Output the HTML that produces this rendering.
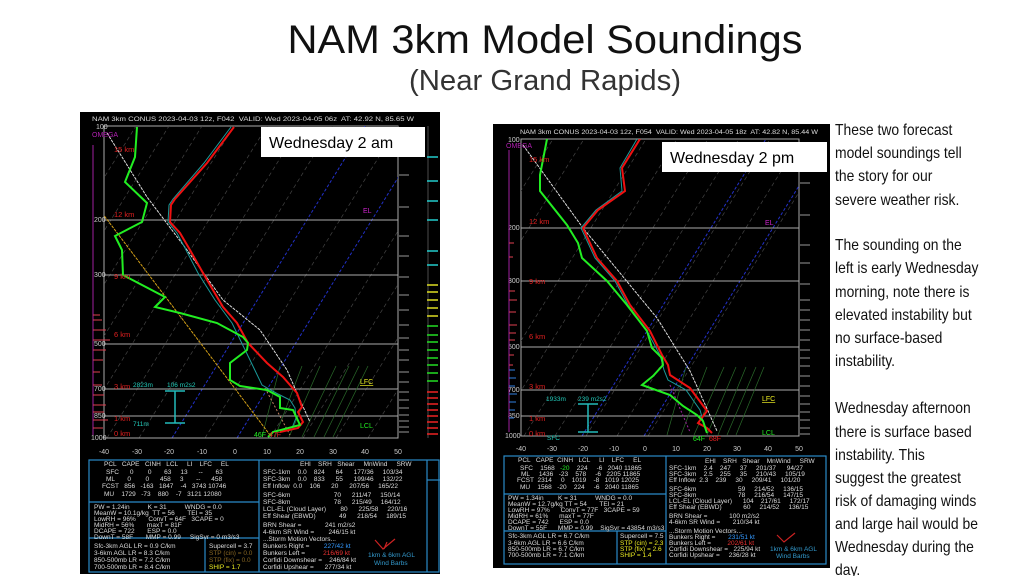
<!DOCTYPE html>
<html><head><meta charset="utf-8"><style>
html,body{margin:0;padding:0;background:#fff;width:1024px;height:576px;overflow:hidden}
svg{display:block}
.t{font-family:"Liberation Sans",sans-serif}
.s{font-family:"Liberation Sans",sans-serif;font-size:6.5px;fill:#ddd;white-space:pre}
.s text{white-space:pre}
</style></head><body>
<svg width="1024" height="576" viewBox="0 0 1024 576" xmlns="http://www.w3.org/2000/svg">
<defs>
<clipPath id="cl"><rect x="104" y="126" width="294" height="312"/></clipPath>
<clipPath id="cr"><rect x="521" y="139" width="278" height="297"/></clipPath>
<line id="isoL" x1="0" y1="438" x2="193" y2="126" stroke="#444" stroke-width="0.7" stroke-dasharray="4,3"/>
<line id="isoR" x1="0" y1="436" x2="184" y2="139" stroke="#444" stroke-width="0.7" stroke-dasharray="4,3"/>
</defs>
<rect width="1024" height="576" fill="#fff"/>
<text class="t" x="545" y="53" text-anchor="middle" font-size="40" textLength="515" lengthAdjust="spacingAndGlyphs" fill="#111">NAM 3km Model Soundings</text>
<text class="t" x="545" y="90" text-anchor="middle" font-size="29" textLength="272" lengthAdjust="spacingAndGlyphs" fill="#333">(Near Grand Rapids)</text>

<!-- LEFT PANEL -->
<rect x="80" y="112" width="360" height="462" fill="#000"/>
<text class="s" x="92" y="121" font-size="7" fill="#ccc" textLength="322" lengthAdjust="spacingAndGlyphs">NAM 3km CONUS 2023-04-03 12z, F042  VALID: Wed 2023-04-05 06z  AT: 42.92 N, 85.65 W</text>
<rect x="104" y="126" width="294" height="312" fill="none" stroke="#aaa" stroke-width="1"/>
<g clip-path="url(#cl)">
<use href="#isoL" x="-155"/><use href="#isoL" x="-122"/><use href="#isoL" x="-89"/><use href="#isoL" x="-57"/><use href="#isoL" x="-24"/><use href="#isoL" x="9"/><use href="#isoL" x="41"/><use href="#isoL" x="74"/><use href="#isoL" x="107"/><use href="#isoL" x="139"/><use href="#isoL" x="205"/><use href="#isoL" x="270"/><use href="#isoL" x="303"/><use href="#isoL" x="336"/><use href="#isoL" x="368"/>
<line x1="172" y1="438" x2="365" y2="126" stroke="#2230c8" stroke-width="1" stroke-dasharray="3,2"/>
<line x1="237" y1="438" x2="430" y2="126" stroke="#2230c8" stroke-width="1" stroke-dasharray="3,2"/>
<g stroke="#aaa" stroke-width="1"><line x1="104" y1="220" x2="398" y2="220"/><line x1="104" y1="275" x2="398" y2="275"/><line x1="104" y1="344" x2="398" y2="344"/><line x1="104" y1="389" x2="398" y2="389"/><line x1="104" y1="416" x2="398" y2="416"/><line x1="104" y1="438" x2="398" y2="438"/></g>
<g stroke="#2a6a2a" stroke-width="0.7"><line x1="262" y1="437" x2="280" y2="366"/><line x1="275" y1="437" x2="302" y2="366"/><line x1="289" y1="437" x2="320" y2="366"/><line x1="302" y1="437" x2="336" y2="366"/><line x1="314" y1="437" x2="349" y2="366"/><line x1="324" y1="437" x2="359" y2="366"/><line x1="333" y1="437" x2="368" y2="366"/></g>
<line x1="90" y1="197" x2="270" y2="435" stroke="#d4a017" stroke-width="1" stroke-dasharray="3,1"/>
<line x1="265" y1="388" x2="290" y2="435" stroke="#c08060" stroke-width="1" stroke-dasharray="2,2"/>
<polyline fill="none" stroke="#ddd" stroke-width="1" stroke-dasharray="3,1" points="107,133 147,197 187,250 223,300 260,330 287,370 300,400 310,422"/>
<polyline fill="none" stroke="#1a9a9a" stroke-width="1" points="231,127 204,163 173,199 169,205 168,222 177,233 186,250 198,273 215,300 232,323 250,360 262,385 278,394 290,400 295,408 296,418 292,428"/>
<polyline fill="none" stroke="#ee1111" stroke-width="2" points="234,127 207,163 175,199 171,205 170,222 180,233 190,250 203,273 223,307 237,323 248,343 267,363 283,377 297,393 302,407 298,412 303,422 298,428 280,432"/>
<polyline fill="none" stroke="#22ee22" stroke-width="2" points="137,127 135,157 125,182 147,203 142,222 115,236 122,250 123,275 165,297 155,307 180,313 217,323 243,337 248,343 247,350 230,363 230,380 240,386 267,390 280,397 280,408 293,410 300,425 273,432 268,437"/>
</g>
<g font-family="Liberation Sans,sans-serif" font-size="7" fill="#ccc">
<text x="96" y="129">100</text><text x="94" y="222">200</text><text x="94" y="277">300</text><text x="94" y="346">500</text><text x="94" y="391">700</text><text x="94" y="418">850</text><text x="91" y="440">1000</text>
<text x="92" y="137" fill="#b020b0">OMEGA</text>
</g>
<g font-family="Liberation Sans,sans-serif" font-size="7.5" fill="#e02020">
<text x="114" y="152">15 km</text><text x="114" y="217">12 km</text><text x="114" y="279">9 km</text><text x="114" y="337">6 km</text><text x="114" y="389">3 km</text><text x="114" y="421">1 km</text><text x="114" y="436">0 km</text>
</g>
<line x1="93" y1="145" x2="93" y2="435" stroke="#a020a0" stroke-width="1"/>
<g stroke="#e04050" stroke-width="1"><line x1="93" y1="315" x2="100" y2="315"/><line x1="93" y1="320" x2="102" y2="320"/><line x1="93" y1="330" x2="106" y2="330"/><line x1="93" y1="340" x2="110" y2="340"/><line x1="93" y1="350" x2="106" y2="350"/><line x1="93" y1="360" x2="103" y2="360"/><line x1="93" y1="372" x2="100" y2="372"/><line x1="93" y1="385" x2="102" y2="385"/><line x1="93" y1="395" x2="104" y2="395"/><line x1="93" y1="405" x2="106" y2="405"/><line x1="93" y1="412" x2="104" y2="412"/><line x1="93" y1="420" x2="108" y2="420"/><line x1="93" y1="428" x2="103" y2="428"/></g>
<g font-family="Liberation Sans,sans-serif" font-size="6.5" fill="#2cb">
<text x="133" y="387">2823m</text><text x="167" y="387">106 m2s2</text><text x="133" y="426">711m</text></g>
<path d="M165 391H185M175 391V423M165 423H185" stroke="#2bb" stroke-width="1.5" fill="none"/>
<text x="254" y="437" font-family="Liberation Sans,sans-serif" font-size="7" fill="#2e2">46F</text>
<text x="269" y="437" font-family="Liberation Sans,sans-serif" font-size="7" fill="#e22">47F</text>
<text x="360" y="384" font-family="Liberation Sans,sans-serif" font-size="7" fill="#ee2" text-decoration="underline">LFC</text>
<text x="360" y="428" font-family="Liberation Sans,sans-serif" font-size="7" fill="#2e2">LCL</text>
<text x="363" y="213" font-family="Liberation Sans,sans-serif" font-size="7" fill="#c2c">EL</text>
<g stroke="#ccc" stroke-width="0.8" fill="none">
<path d="M399 175h10M399 207h10M399 236h10M399 256h10M399 277h10M399 295h10M399 310h10M399 325h10M399 338h10M399 350h10M399 360h10M399 372h10M399 382h10M399 392h10M399 400h10M399 408h10M399 415h10M399 421h10M399 427h10M399 432h10"/></g>
<g stroke-width="1.5"><line x1="428" y1="126" x2="428" y2="438" stroke="#333"/>
<g stroke="#2cc"><path d="M427 157h11M427 181h11M427 201h11M427 220h11M427 251h11M427 265h11"/></g>
<g stroke="#dd2"><path d="M427 285h11M427 292h11M427 300h11M427 308h11M427 316h11"/></g>
<g stroke="#2d2"><path d="M427 326h11M427 335h11M427 342h11M427 350h11M427 358h11M427 365h11M427 373h11M427 381h11"/></g>
<g stroke="#e22"><path d="M427 392h11M427 398h11M427 404h11M427 410h11M427 416h11M427 422h11M427 428h11M427 434h11"/></g></g>
<rect x="261" y="127" width="164" height="30" fill="#fff"/>
<text class="t" x="269" y="148" font-size="16" fill="#000">Wednesday 2 am</text>
<g font-family="Liberation Sans,sans-serif" font-size="7" fill="#ccc" text-anchor="middle">
<text x="104" y="454">-40</text><text x="137" y="454">-30</text><text x="169" y="454">-20</text><text x="202" y="454">-10</text><text x="235" y="454">0</text><text x="267" y="454">10</text><text x="300" y="454">20</text><text x="333" y="454">30</text><text x="365" y="454">40</text><text x="398" y="454">50</text></g>
<g fill="none" stroke="#2a8ac8" stroke-width="1.2">
<rect x="89" y="460" width="350" height="112"/><line x1="259" y1="460" x2="259" y2="572"/><line x1="89" y1="502" x2="259" y2="502"/><line x1="89" y1="538" x2="259" y2="538"/><line x1="205" y1="538" x2="205" y2="572"/><line x1="427" y1="460" x2="427" y2="572"/><line x1="427" y1="480" x2="440" y2="480"/></g>
<g class="s" fill="#ddd" xml:space="preserve">
<text x="104" y="466">PCL   CAPE   CINH   LCL     LI    LFC     EL</text>
<text x="106" y="474">SFC      0        0       63     13      --       63</text>
<text x="106" y="481">ML       0        0      458     3       --      458</text>
<text x="102" y="488">FCST   856   -163   1847    -4   3743 10746</text>
<text x="104" y="496">MU    1729   -73    880    -7   3121 12080</text>
<text x="94" y="509">PW = 1.24in          K = 31          WNDG = 0.0</text>
<text x="94" y="515">MeanW = 10.1g/kg  TT = 56       TEI = 35</text>
<text x="94" y="521">LowRH = 96%       ConvT = 64F   3CAPE = 0</text>
<text x="94" y="527">MidRH = 56%       maxT = 81F</text>
<text x="94" y="533">DCAPE = 722       ESP = 0.0</text>
<text x="94" y="539">DownT = 58F       MMP = 0.99     SigSvr = 0 m3/s3</text>
<text x="94" y="548">Sfc-3km AGL LR = 0.9 C/km</text>
<text x="94" y="555">3-6km AGL LR = 8.3 C/km</text>
<text x="94" y="562">850-500mb LR = 7.2 C/km</text>
<text x="94" y="569">700-500mb LR = 8.4 C/km</text>
<text x="209" y="548">Supercell = 3.7</text>
<text x="209" y="555" fill="#886622">STP (cin) = 0.0</text>
<text x="209" y="562" fill="#886622">STP (fix) = 0.0</text>
<text x="209" y="569" fill="#ee2">SHIP = 1.7</text>
<text x="300" y="466">EHI    SRH   Shear     MnWind     SRW</text>
<text x="263" y="474">SFC-1km    0.0    824      64      177/36     103/34</text>
<text x="263" y="481">SFC-3km    0.0    833      55      199/46     132/22</text>
<text x="263" y="488">Eff Inflow  0.0    106      20      207/56     165/22</text>
<text x="263" y="497">SFC-6km                        70      211/47     150/14</text>
<text x="263" y="504">SFC-8km                        78      215/49     164/12</text>
<text x="263" y="511">LCL-EL (Cloud Layer)        80      225/58     220/16</text>
<text x="263" y="518">Eff Shear (EBWD)             49      218/54     189/15</text>
<text x="263" y="527">BRN Shear =             241 m2/s2</text>
<text x="263" y="534">4-6km SR Wind =        246/15 kt</text>
<text x="263" y="541">...Storm Motion Vectors...</text>
<text x="263" y="548">Bunkers Right =        <tspan fill="#39f">227/42 kt</tspan></text>
<text x="263" y="555">Bunkers Left =          <tspan fill="#e33">216/69 kt</tspan></text>
<text x="263" y="562">Corfidi Downshear =    246/84 kt</text>
<text x="263" y="569">Corfidi Upshear =      277/34 kt</text>
<text x="368" y="557" fill="#39c">1km &amp; 6km AGL</text>
<text x="374" y="565" fill="#39c">Wind Barbs</text>
</g>
<path d="M375 540l8 9l12-10M384 549l3-7" stroke="#c22" stroke-width="1.2" fill="none"/>

<!-- RIGHT PANEL -->
<rect x="493" y="124" width="337" height="444" fill="#000"/>
<text class="s" x="520" y="134" font-size="7" fill="#ccc" textLength="298" lengthAdjust="spacingAndGlyphs">NAM 3km CONUS 2023-04-03 12z, F054  VALID: Wed 2023-04-05 18z  AT: 42.82 N, 85.44 W</text>
<rect x="521" y="139" width="278" height="297" fill="none" stroke="#aaa" stroke-width="1"/>
<g clip-path="url(#cr)">
<use href="#isoR" x="-126"/><use href="#isoR" x="-95"/><use href="#isoR" x="-64"/><use href="#isoR" x="-33"/><use href="#isoR" x="-2"/><use href="#isoR" x="29"/><use href="#isoR" x="60"/><use href="#isoR" x="91"/><use href="#isoR" x="121"/><use href="#isoR" x="152"/><use href="#isoR" x="183"/><use href="#isoR" x="245"/><use href="#isoR" x="276"/><use href="#isoR" x="307"/><use href="#isoR" x="338"/><use href="#isoR" x="369"/><use href="#isoR" x="400"/><use href="#isoR" x="462"/><use href="#isoR" x="493"/><use href="#isoR" x="524"/><use href="#isoR" x="555"/><use href="#isoR" x="586"/><use href="#isoR" x="617"/><use href="#isoR" x="648"/>
<line x1="582" y1="436" x2="766" y2="139" stroke="#2230c8" stroke-width="1" stroke-dasharray="3,2"/>
<line x1="644" y1="436" x2="828" y2="139" stroke="#2230c8" stroke-width="1" stroke-dasharray="3,2"/>
<g stroke="#aaa" stroke-width="1"><line x1="521" y1="228" x2="799" y2="228"/><line x1="521" y1="281" x2="799" y2="281"/><line x1="521" y1="347" x2="799" y2="347"/><line x1="521" y1="390" x2="799" y2="390"/><line x1="521" y1="416" x2="799" y2="416"/><line x1="521" y1="436" x2="799" y2="436"/></g>
<g stroke="#2a6a2a" stroke-width="0.7"><line x1="667" y1="435" x2="686" y2="367"/><line x1="681" y1="435" x2="707" y2="367"/><line x1="694" y1="435" x2="724" y2="367"/><line x1="707" y1="435" x2="736" y2="367"/><line x1="718" y1="435" x2="746" y2="367"/><line x1="727" y1="435" x2="756" y2="367"/><line x1="736" y1="435" x2="764" y2="367"/></g>
<line x1="670" y1="385" x2="690" y2="432" stroke="#a020a0" stroke-width="1" stroke-dasharray="2,2"/>
<polyline fill="none" stroke="#ddd" stroke-width="1" stroke-dasharray="3,1" points="523,145 583,228 657,318 690,371 717,431"/>
<polyline fill="none" stroke="#1a9a9a" stroke-width="1" points="637,139 620,168 622,191 596,210 581,228 595,258 615,281 628,305 647,331 660,355 664,370 668,380 686,390 700,410 705,428"/>
<polyline fill="none" stroke="#ee1111" stroke-width="2" points="640,139 622,168 625,191 598,210 583,228 597,258 617,281 630,305 650,331 662,355 668,365 670,375 690,388 707,411 698,423 707,428 712,433"/>
<polyline fill="none" stroke="#22ee22" stroke-width="2" points="547,139 540,175 540,191 567,225 578,243 582,258 607,281 627,305 647,331 652,348 662,358 663,365 653,376 642,385 670,395 683,406 697,415 703,421 707,433"/>
</g>
<g font-family="Liberation Sans,sans-serif" font-size="7" fill="#ccc">
<text x="508" y="142">100</text><text x="508" y="230">200</text><text x="508" y="283">300</text><text x="508" y="349">500</text><text x="508" y="392">700</text><text x="508" y="418">850</text><text x="505" y="438">1000</text>
<text x="506" y="148" fill="#b020b0">OMEGA</text></g>
<g font-family="Liberation Sans,sans-serif" font-size="7.5" fill="#e02020">
<text x="529" y="162">15 km</text><text x="529" y="224">12 km</text><text x="529" y="284">9 km</text><text x="529" y="339">6 km</text><text x="529" y="389">3 km</text><text x="529" y="421">1 km</text><text x="529" y="436">0 km</text></g>
<line x1="509" y1="150" x2="509" y2="432" stroke="#a020a0" stroke-width="1"/>
<g stroke="#e04050" stroke-width="1"><path d="M509 243h5M509 257h4M509 291h6M509 300h8M509 312h7M509 325h8M509 333h7M509 340h6M509 355h5M509 365h4"/></g>
<g stroke="#3080e0" stroke-width="1"><path d="M509 370h6M509 378h7M509 386h6M509 394h8M509 402h7M509 410h6M509 418h5"/></g>
<g font-family="Liberation Sans,sans-serif" font-size="6.5" fill="#2cb"><text x="546" y="401">1933m</text><text x="578" y="401">239 m2s2</text><text x="547" y="440">SFC</text></g>
<path d="M578 404H598M588 404V432M578 432H598" stroke="#2bb" stroke-width="1.5" fill="none"/>
<text x="693" y="441" font-family="Liberation Sans,sans-serif" font-size="7" fill="#2e2">64F</text>
<text x="709" y="441" font-family="Liberation Sans,sans-serif" font-size="7" fill="#e22">68F</text>
<text x="762" y="401" font-family="Liberation Sans,sans-serif" font-size="7" fill="#ee2" text-decoration="underline">LFC</text>
<text x="762" y="435" font-family="Liberation Sans,sans-serif" font-size="7" fill="#2e2">LCL</text>
<text x="765" y="225" font-family="Liberation Sans,sans-serif" font-size="7" fill="#c2c">EL</text>
<g stroke="#ccc" stroke-width="0.8"><path d="M800 183h10M800 215h10M800 245h10M800 263h10M800 284h10M800 300h10M800 310h10M800 320h10M800 330h10M800 340h10M800 350h10M800 358h10M800 366h10M800 376h10M800 386h10M800 396h10M800 404h10M800 412h10M800 420h10M800 428h10M800 434h10"/></g>
<rect x="662" y="142" width="165" height="30" fill="#fff"/>
<text class="t" x="670" y="163" font-size="16" fill="#000">Wednesday 2 pm</text>
<g font-family="Liberation Sans,sans-serif" font-size="7" fill="#ccc" text-anchor="middle">
<text x="521" y="451">-40</text><text x="552" y="451">-30</text><text x="583" y="451">-20</text><text x="614" y="451">-10</text><text x="645" y="451">0</text><text x="676" y="451">10</text><text x="707" y="451">20</text><text x="737" y="451">30</text><text x="768" y="451">40</text><text x="799" y="451">50</text></g>
<g fill="none" stroke="#2a8ac8" stroke-width="1.2">
<rect x="504" y="456" width="322" height="108"/><line x1="666" y1="456" x2="666" y2="564"/><line x1="504" y1="494" x2="666" y2="494"/><line x1="504" y1="531" x2="666" y2="531"/><line x1="617" y1="531" x2="617" y2="564"/></g>
<g class="s" fill="#ddd" xml:space="preserve">
<text x="518" y="462">PCL   CAPE  CINH   LCL     LI    LFC     EL</text>
<text x="520" y="470">SFC    1568   <tspan fill="#2e2">-20</tspan>    224     -6   2040 11865</text>
<text x="521" y="476">ML     1436   -23    578     -6   2205 11865</text>
<text x="517" y="482">FCST  2314     0    1019    -8   1019 12025</text>
<text x="520" y="489">MU    1568   -20    224     -6   2040 11865</text>
<text x="508" y="500">PW = 1.34in        K = 31          WNDG = 0.0</text>
<text x="508" y="506">MeanW = 12.7g/kg TT = 54       TEI = 21</text>
<text x="508" y="512">LowRH = 97%      ConvT = 77F   3CAPE = 59</text>
<text x="508" y="518">MidRH = 61%      maxT = 77F</text>
<text x="508" y="524">DCAPE = 742      ESP = 0.0</text>
<text x="508" y="530">DownT = 55F      MMP = 0.99    SigSvr = 43854 m3/s3</text>
<text x="508" y="538">Sfc-3km AGL LR = 6.7 C/km</text>
<text x="508" y="545">3-6km AGL LR = 6.6 C/km</text>
<text x="508" y="551">850-500mb LR = 6.7 C/km</text>
<text x="508" y="557">700-500mb LR = 7.1 C/km</text>
<text x="620" y="538">Supercell = 7.5</text>
<text x="620" y="545" fill="#ee2">STP (cin) = 2.3</text>
<text x="620" y="551" fill="#ee2">STP (fix) = 2.6</text>
<text x="620" y="557" fill="#ee2">SHIP = 1.4</text>
<text x="705" y="463">EHI    SRH   Shear    MnWind     SRW</text>
<text x="669" y="470">SFC-1km    2.4    247     37     201/37      94/27</text>
<text x="669" y="476">SFC-3km    2.5    255     35     210/43     105/19</text>
<text x="669" y="482">Eff Inflow  2.3    239     30     209/41     101/20</text>
<text x="669" y="491">SFC-6km                       59     214/52     136/15</text>
<text x="669" y="497">SFC-8km                       78     216/54     147/15</text>
<text x="669" y="503">LCL-EL (Cloud Layer)      104    217/61     172/17</text>
<text x="669" y="509">Eff Shear (EBWD)            60     214/52     136/15</text>
<text x="669" y="518">BRN Shear =            100 m2/s2</text>
<text x="669" y="524">4-6km SR Wind =       210/34 kt</text>
<text x="669" y="533">...Storm Motion Vectors...</text>
<text x="669" y="539">Bunkers Right =       <tspan fill="#39f">231/51 kt</tspan></text>
<text x="669" y="545">Bunkers Left =         <tspan fill="#e33">202/61 kt</tspan></text>
<text x="669" y="551">Corfidi Downshear =   225/94 kt</text>
<text x="669" y="557">Corfidi Upshear =     236/28 kt</text>
<text x="770" y="551" fill="#39c">1km &amp; 6km AGL</text>
<text x="776" y="558" fill="#39c">Wind Barbs</text>
</g>
<path d="M777 535l7 7l11-9" stroke="#c22" stroke-width="1.2" fill="none"/>

<!-- RIGHT TEXT -->
<g class="t" font-size="15.8" fill="#111" transform="translate(835,0) scale(0.88,1)">
<text x="0" y="135">These two forecast</text>
<text x="0" y="158">model soundings tell</text>
<text x="0" y="181">the story for our</text>
<text x="0" y="205">severe weather risk.</text>
<text x="0" y="250">The sounding on the</text>
<text x="0" y="273">left is early Wednesday</text>
<text x="0" y="297">morning, note there is</text>
<text x="0" y="320">elevated instability but</text>
<text x="0" y="343">no surface-based</text>
<text x="0" y="366">instability.</text>
<text x="0" y="413">Wednesday afternoon</text>
<text x="0" y="437">there is surface based</text>
<text x="0" y="460">instability.  This</text>
<text x="0" y="483">suggest the greatest</text>
<text x="0" y="506">risk of damaging winds</text>
<text x="0" y="529">and large hail would be</text>
<text x="0" y="552">Wednesday during the</text>
<text x="0" y="575">day.</text>
</g>
</svg>
</body></html>
